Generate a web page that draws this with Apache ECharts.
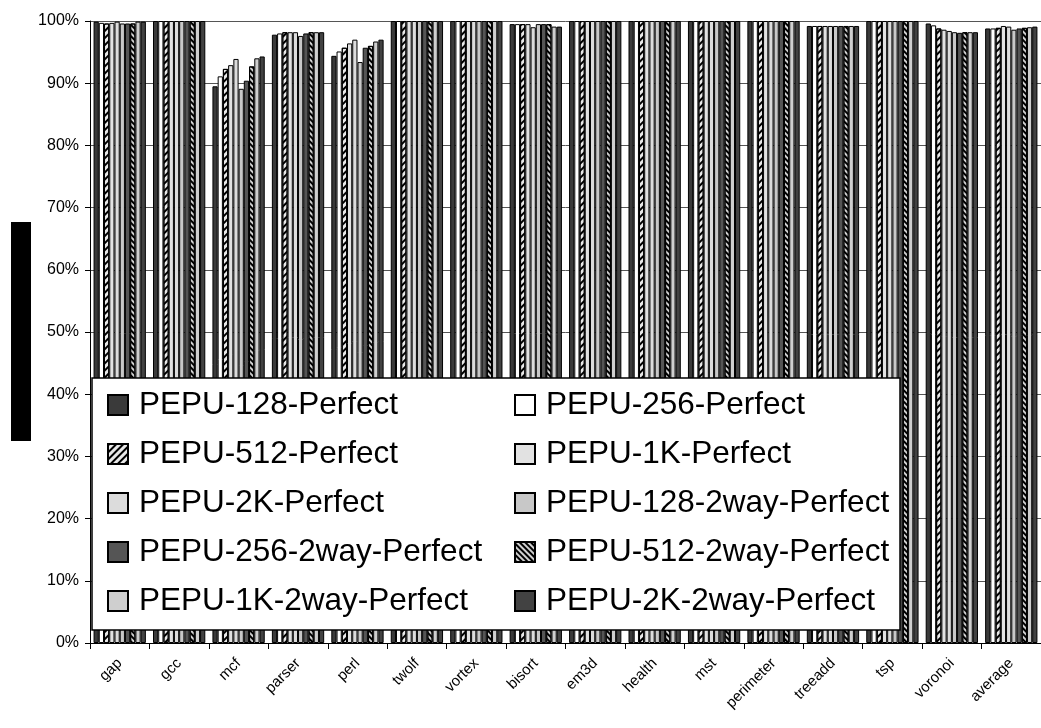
<!DOCTYPE html>
<html><head><meta charset="utf-8">
<script src="https://cdn.jsdelivr.net/npm/echarts@6/dist/echarts.min.js"></script>
<style>html,body{margin:0;padding:0;background:#fff}#c{width:1041px;height:728px}</style>
</head><body><div id="c"></div>
<script>
var categories = ['gap','gcc','mcf','parser','perl','twolf','vortex','bisort','em3d','health','mst','perimeter','treeadd','tsp','voronoi','average'];
var yTicks = [0,10,20,30,40,50,60,70,80,90,100];
var seriesNames = ['PEPU-128-Perfect','PEPU-256-Perfect','PEPU-512-Perfect','PEPU-1K-Perfect','PEPU-2K-Perfect','PEPU-128-2way-Perfect','PEPU-256-2way-Perfect','PEPU-512-2way-Perfect','PEPU-1K-2way-Perfect','PEPU-2K-2way-Perfect'];
var pepu128   = [99.9,100,89.5,97.8,94.4,100,100,99.5,100,100,100,100,99.2,100,99.6,98.8];
var pepu256   = [99.7,100,91.1,98.0,95.1,100,100,99.5,100,100,100,100,99.2,100,99.3,98.8];
var pepu512   = [99.6,100,92.3,98.2,95.7,100,100,99.5,100,100,100,100,99.2,100,98.8,98.9];
var pepu1k    = [99.7,100,92.9,98.2,96.4,100,100,99.5,100,100,100,100,99.2,100,98.6,99.2];
var pepu2k    = [99.9,100,93.9,98.2,97.0,100,100,99.0,100,100,100,100,99.2,100,98.4,99.1];
var pepu128w2 = [99.6,100,89.1,97.6,93.4,100,100,99.5,100,100,100,100,99.2,100,98.2,98.6];
var pepu256w2 = [99.6,100,90.4,98.0,95.7,100,100,99.5,100,100,100,100,99.2,100,98.1,98.8];
var pepu512w2 = [99.6,100,92.7,98.2,96.0,100,100,99.5,100,100,100,100,99.2,100,98.2,98.9];
var pepu1kw2  = [99.9,100,94.0,98.2,96.7,100,100,99.1,100,100,100,100,99.2,100,98.2,99.0];
var pepu2kw2  = [99.9,100,94.3,98.2,97.0,100,100,99.1,100,100,100,100,99.2,100,98.2,99.1];
var allValues = [pepu128,pepu256,pepu512,pepu1k,pepu2k,pepu128w2,pepu256w2,pepu512w2,pepu1kw2,pepu2kw2];

var fills = ['#3a3a3a','#ffffff','#e8e8e8','#e2e2e2','#dcdcdc','#c8c8c8','#555555','#d0d0d0','#cfcfcf','#424242'];
var decals = [null,null,
  {symbol:'rect',color:'#000',dashArrayX:[1,0],dashArrayY:[1.5,2.5],rotation:-Math.PI/4,symbolSize:1},
  null,null,null,null,
  {symbol:'rect',color:'#000',dashArrayX:[1,0],dashArrayY:[1.5,2],rotation:Math.PI/4,symbolSize:1},
  null,null];

var series = seriesNames.map(function(n,i){
  var st = {color:fills[i], borderColor:'#000', borderWidth:1};
  if (decals[i]) st.decal = decals[i];
  return {name:n, type:'bar', data:allValues[i], itemStyle:st, barGap:'0%', barCategoryGap:'12%'};
});

var chart = echarts.init(document.getElementById('c'));
var legendText = {fontFamily:'Liberation Sans, Arial, sans-serif', fontSize:31.5, lineHeight:36, color:'#000', padding:[0,0,0,6]};
chart.setOption({
  animation:false,
  backgroundColor:'#fff',
  grid:{left:90, top:21, right:-9, bottom:85},
  xAxis:{type:'category', data:categories,
    axisLine:{lineStyle:{color:'#000', width:1}},
    axisTick:{show:true, length:6, lineStyle:{color:'#000'}},
    axisLabel:{rotate:45, margin:18, fontSize:15, color:'#000', fontFamily:'Liberation Sans, Arial, sans-serif', interval:0}},
  yAxis:{type:'value', min:0, max:100, interval:10,
    axisLine:{show:true, lineStyle:{color:'#000'}},
    axisTick:{show:true, length:5, lineStyle:{color:'#000'}},
    splitLine:{show:true, lineStyle:{color:'#555', width:1}},
    axisLabel:{formatter:function(v){return v+'%';}, fontSize:16, color:'#000', margin:11, fontFamily:'Liberation Sans, Arial, sans-serif'}},
  legend:[
    {data:[seriesNames[0],seriesNames[2],seriesNames[4],seriesNames[6],seriesNames[8]], orient:'vertical', left:107, top:387, padding:0,
     itemWidth:20, itemHeight:20, itemGap:13, icon:'rect', selectedMode:false, textStyle:legendText, z:6},
    {data:[seriesNames[1],seriesNames[3],seriesNames[5],seriesNames[7],seriesNames[9]], orient:'vertical', left:514, top:387, padding:0,
     itemWidth:20, itemHeight:20, itemGap:13, icon:'rect', selectedMode:false, textStyle:legendText, z:6}
  ],
  graphic:[
    {type:'rect', z:5, shape:{x:92, y:378, width:808, height:252}, style:{fill:'#fff', stroke:'#000', lineWidth:1.5}},
    {type:'rect', z:5, shape:{x:11, y:222, width:20, height:219}, style:{fill:'#000'}}
  ],
  series:series
});
</script></body></html>
